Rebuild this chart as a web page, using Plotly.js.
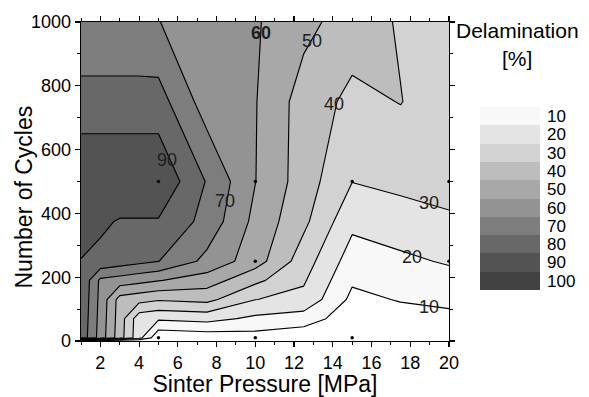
<!DOCTYPE html>
<html><head><meta charset="utf-8">
<script src="https://cdn.plot.ly/plotly-3.0.1.min.js"></script>
<style>html,body{margin:0;padding:0;background:#fff}#chart{width:589px;height:397px}</style>
</head><body><div id="chart"></div>
<script>
// Sinter pressure [MPa] (columns) and number of cycles (rows)
const pressure = [1, 2, 3, 4, 5, 7.5, 10, 12.5, 15, 17.5, 20];
const cycles = [0, 10, 70, 130, 190, 250, 375, 500, 750, 1000];
// Delamination [%]
const delamination = [
  [0, 0, 0, 0, 0, 0, 0, 0, 0, 0, 0],
  [87, 65.75, 44.5, 23.25, 2, 3.85, 5.7, 2.95, 0.2, 1.7, 3.2],
  [87.75, 66.5, 45.25, 24, 21.5, 23.35, 17.93, 15.18, 3.9, 6.15, 7.65],
  [88.5, 67.25, 46, 43.5, 41, 42.85, 30.15, 27.4, 7.6, 10.6, 12.1],
  [89.25, 68, 65.5, 63, 60.5, 55.08, 42.38, 31.1, 11.3, 14.3, 16.55],
  [89.7, 87.5, 85, 82.5, 80.2, 67.3, 54.6, 34.8, 15, 18, 21],
  [94.25, 91.75, 89.25, 89.25, 89.25, 76.55, 57.3, 42.3, 22.5, 25.5, 28],
  [98.5, 98.5, 98.5, 98.5, 98.5, 79.3, 60.2, 45, 30.2, 32.5, 35],
  [84.3, 84.3, 84.3, 84.3, 84.3, 65, 60.5, 45.5, 37.5, 40.3, 34],
  [71, 71, 71, 71, 70.2, 65.5, 61, 53, 45, 39, 33]
];
// visible measurement points
const sampleX = [5, 10, 15, 20, 10, 20, 5, 10, 15];
const sampleY = [500, 500, 500, 500, 250, 250, 10, 10, 10];

// fill colours of the bands <10, 10-20, ..., >90
const bandColors = ['#ffffff', '#f8f8f8', '#e4e4e4', '#d2d2d2', '#bdbdbd', '#a8a8a8', '#939393', '#7d7d7d', '#686868', '#535353'];
// colour key
const legendLabels = ['10', '20', '30', '40', '50', '60', '70', '80', '90', '100'];
const legendColors = ['#f8f8f8', '#e4e4e4', '#d2d2d2', '#bdbdbd', '#a8a8a8', '#939393', '#7d7d7d', '#686868', '#535353', '#424242'];

// contour line labels
const contourLabelText = ['60', '50', '40', '90', '70', '30', '20', '10'];
const contourLabelX = [10.3, 12.91, 14.05, 5.42, 8.42, 18.97, 18.1, 18.96];
const contourLabelY = [964, 942, 742, 568, 439, 432, 264, 107];

const FONT = 'Liberation Sans, Arial, sans-serif';

const contour = {
  type: 'contour', x: pressure, y: cycles, z: delamination,
  autocontour: false,
  contours: {start: 10, end: 90, size: 10, coloring: 'fill', showlines: true},
  line: {color: '#000', width: 1.15, smoothing: 0},
  colorscale: bandColors.map((c, i) => [i / (bandColors.length - 1), c]),
  showscale: false, hoverinfo: 'skip', xaxis: 'x', yaxis: 'y'
};

const dots = {
  type: 'scatter', mode: 'markers', x: sampleX, y: sampleY,
  marker: {size: 3.5, color: '#000'}, hoverinfo: 'skip', xaxis: 'x', yaxis: 'y'
};

const key = {
  type: 'heatmap', x: [0], y: legendLabels,
  z: legendLabels.map((_, i) => [i]),
  zmin: 0, zmax: legendLabels.length - 1,
  colorscale: legendColors.map((c, i) => [i / (legendColors.length - 1), c]),
  showscale: false, hoverinfo: 'skip', xaxis: 'x2', yaxis: 'y2'
};

const annotations = contourLabelText.map((t, i) => ({
  x: contourLabelX[i], y: contourLabelY[i], xref: 'x', yref: 'y',
  text: t === '60' ? '<b>60</b>' : t, showarrow: false,
  font: {family: FONT, size: 18, color: '#1e1e1e'}
}));
annotations.push(
  {x: 0.860, y: 0.972, xref: 'paper', yref: 'paper', text: 'Delamination', showarrow: false,
   xanchor: 'center', yanchor: 'middle', font: {family: FONT, size: 21, color: '#000'}},
  {x: 0.858, y: 0.887, xref: 'paper', yref: 'paper', text: '[%]', showarrow: false,
   xanchor: 'center', yanchor: 'middle', font: {family: FONT, size: 21, color: '#000'}},
  {x: -0.1122, y: 0.4498, xref: 'paper', yref: 'paper', text: 'Number of Cycles', showarrow: false,
   textangle: -90, xanchor: 'center', yanchor: 'middle', font: {family: FONT, size: 23, color: '#000'}}
);

const axisCommon = {
  ticks: 'outside', ticklen: 5, tickwidth: 1.2, tickcolor: '#000',
  showline: true, linecolor: '#000', linewidth: 1.3, mirror: 'allticks',
  showgrid: false, zeroline: false, tickfont: {family: FONT, size: 18, color: '#000'}
};

const layout = {
  width: 589, height: 397,
  margin: {l: 81, r: 0, t: 22, b: 56},
  paper_bgcolor: '#fff', plot_bgcolor: '#fff',
  font: {family: FONT, color: '#000'},
  showlegend: false,
  xaxis: Object.assign({}, axisCommon, {
    domain: [0, 0.7244], range: [1, 20], tick0: 2, dtick: 2,
    minor: {dtick: 1, ticks: 'outside', ticklen: 3, tickwidth: 1, tickcolor: '#000'},
    title: {text: 'Sinter Pressure [MPa]', font: {family: FONT, size: 23, color: '#000'}, standoff: 6}
  }),
  yaxis: Object.assign({}, axisCommon, {
    range: [0, 1000], tick0: 0, dtick: 200,
    minor: {dtick: 100, ticks: 'outside', ticklen: 3, tickwidth: 1, tickcolor: '#000'}
  }),
  xaxis2: {domain: [0.7854, 0.9035], anchor: 'y2', visible: false, range: [-0.5, 0.5], fixedrange: true},
  yaxis2: {domain: [0.1599, 0.7335], anchor: 'x2', type: 'category', autorange: 'reversed',
    side: 'right', ticks: '', showline: false, showgrid: false, zeroline: false,
    tickmode: 'array', tickvals: legendLabels, ticktext: legendLabels,
    ticklabelstandoff: 6, tickfont: {family: FONT, size: 17, color: '#000'}, fixedrange: true},
  annotations: annotations
};

Plotly.newPlot('chart', [contour, dots, key], layout, {staticPlot: true, displayModeBar: false});
</script></body></html>
